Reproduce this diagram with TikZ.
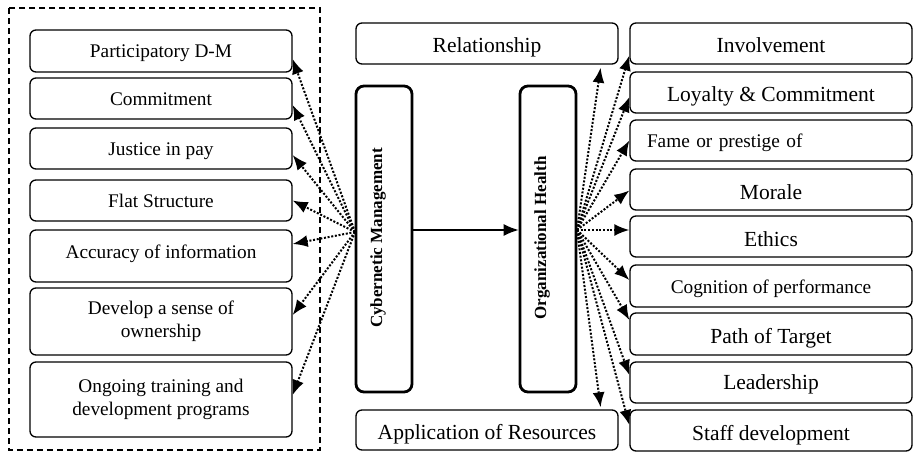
\documentclass[tikz,border=0pt]{standalone}
\usepackage{fontspec}
\setmainfont{Liberation Serif}
\usetikzlibrary{arrows.meta,positioning}
\newcommand{\lsize}{\fontsize{19.3}{23}\selectfont}
\newcommand{\rsize}{\fontsize{21.5}{25}\selectfont}

\begin{document}
\begin{tikzpicture}[x=1pt,y=-1pt,
  box/.style={draw,rounded corners=6pt,line width=1.3pt,inner sep=2pt,align=center},
  lbox/.style={box,minimum width=262,font=\lsize},
  rbox/.style={box,minimum width=282,font=\rsize},
  mbox/.style={box,minimum width=262,font=\rsize},
  lone/.style={text height=16pt,text depth=2pt},
  rone/.style={text height=21pt,text depth=2pt},
  core/.style={draw,rounded corners=8pt,line width=2.8pt,minimum width=56,minimum height=306},
  vlabel/.style={rotate=90,font=\fontsize{17}{20}\selectfont\bfseries},
  tip/.style={-{Latex[length=15pt,width=12pt]}},
  dots/.style={tip,line width=2pt,dash pattern=on 2pt off 1.7pt}]
 \useasboundingbox (0,0) rectangle (914,452);
 % left group
 \draw[line width=1.3pt,dash pattern=on 6pt off 4pt] (9,8) rectangle (320,450);
 \node[lbox,lone,minimum height=42] (pdm) at (161,51) {Participatory D-M};
 \node[lbox,lone,minimum height=41] (comm) at (161,98.5) {Commitment};
 \node[lbox,lone,minimum height=41] (pay) at (161,148.5) {Justice in pay};
 \node[lbox,lone,minimum height=41] (flat) at (161,200.5) {Flat Structure};
 \node[lbox,minimum height=52,text height=8pt,text depth=4pt] (acc) at (161,256) {Accuracy of information};
 \node[lbox,minimum height=67] (own) at (161,321.5) {Develop a sense of\\ownership};
 \node[lbox,minimum height=75] (train) at (161,399.5) {Ongoing training and\\development programs};
 % middle
 \node[mbox,rone,minimum height=41] (rel) at (487,43.5) {Relationship};
 \node[mbox,rone,minimum height=40] (app) at (487,430) {Application of Resources};
 \node[core] (cm) at (384,239) {};
 \node[core] (oh) at (548,239) {};
 \node[vlabel] at (378,238) {Cybernetic Management};
 \node[vlabel] at (542,238) {Organizational Health};
 % right group
 \node[rbox,rone,minimum height=41] (inv) at (771,43.5) {Involvement};
 \node[rbox,rone,minimum height=41] (loy) at (771,92.5) {Loyalty \& Commitment};
 \node[rbox,lone,minimum height=41,font=\lsize,align=left,text width=248,inner xsep=17pt] (fame) at (771,140.5) {Fame or prestige of};
 \node[rbox,rone,minimum height=41] (mor) at (771,189.5) {Morale};
 \node[rbox,rone,minimum height=41] (eth) at (771,236.5) {Ethics};
 \node[rbox,lone,minimum height=42,font=\lsize] (cog) at (771,286) {Cognition of performance};
 \node[rbox,rone,minimum height=42] (path) at (771,334) {Path of Target};
 \node[rbox,lone,minimum height=41] (lead) at (771,382.5) {Leadership};
 \node[rbox,rone,minimum height=41] (staff) at (771,430.5) {Staff development};

 \coordinate (cmout) at (355,232);
 \coordinate (ohout) at (577,230);
 \draw[tip,line width=1.3pt] ([yshift=9pt]cm.east) -- ([yshift=9pt]oh.west);
 \foreach \b/\s in {pdm/-8,comm/-6.5,pay/-6.5,flat/0,acc/12,own/6.5,train/4.5}
   \draw[dots] (cmout) -- ([yshift=\s pt]\b.east);
 \foreach \b/\s in {inv/-12,loy/-4.5,fame/0,mor/-1,eth/6.5,cog/6,path/14,lead/7.5,staff/5.5}
   \draw[dots] (ohout) -- ([yshift=\s pt]\b.west);
 \draw[dots] (ohout) -- ([xshift=-18pt,yshift=-3pt]rel.south east);
 \draw[dots] (ohout) -- ([xshift=-18pt,yshift=2pt]app.north east);
\end{tikzpicture}
\end{document}
